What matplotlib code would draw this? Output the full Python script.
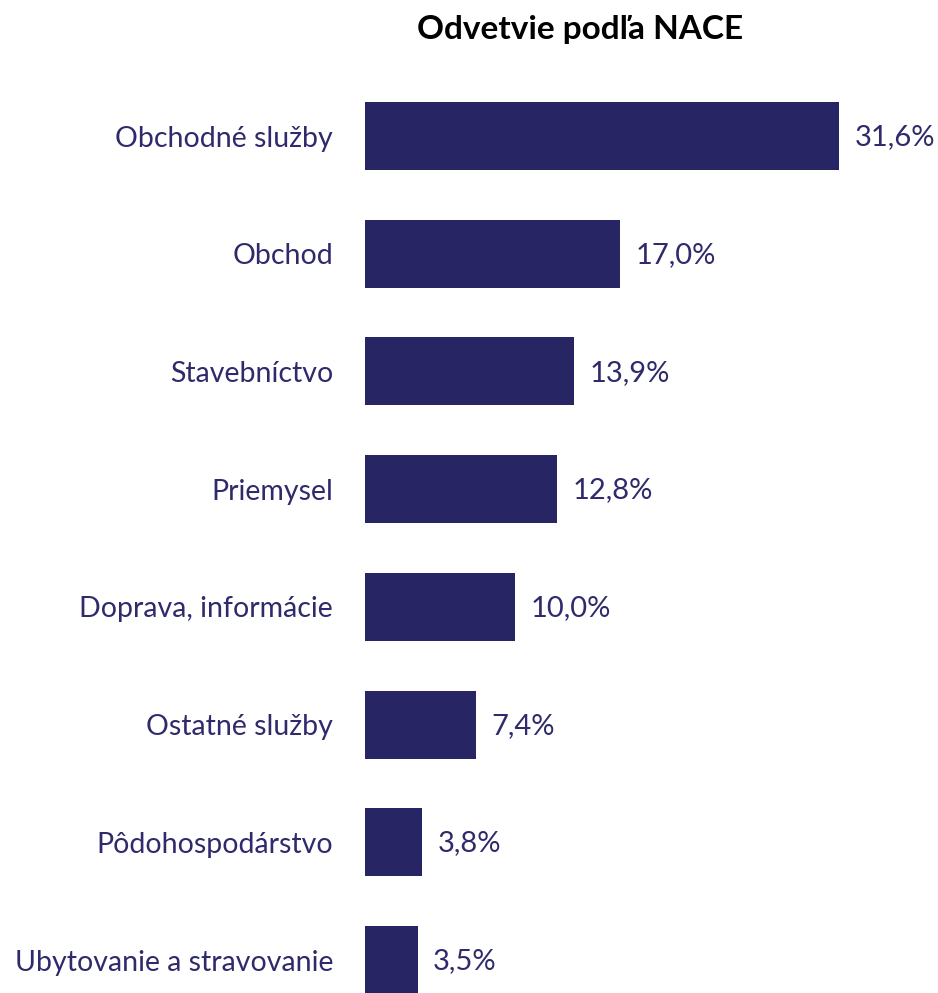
import matplotlib
matplotlib.use("Agg")
import matplotlib.pyplot as plt

categories = ["Obchodné služby", "Obchod", "Stavebníctvo", "Priemysel",
              "Doprava, informácie", "Ostatné služby", "Pôdohospodárstvo",
              "Ubytovanie a stravovanie"]
values = [31.6, 17.0, 13.9, 12.8, 10.0, 7.4, 3.8, 3.5]
value_labels = ["31,6%", "17,0%", "13,9%", "12,8%", "10,0%", "7,4%", "3,8%", "3,5%"]

bar_color = "#282564"
text_color = "#2E2A6B"

W, H = 938, 993
fig = plt.figure(figsize=(W / 100, H / 100), dpi=100)
ax = fig.add_axes([365 / W, 0, 1 - 365 / W, (993 - 60) / H])

ypos = list(range(len(categories)))
ax.barh(ypos, values, height=0.578, color=bar_color)
ax.set_xlim(0, 573 / 15.0)
ax.set_ylim(7.28, -0.646)

for y, v, lab in zip(ypos, values, value_labels):
    ax.text(v + 1.05, y + 0.01, lab, va="center", ha="left", fontsize=21,
            color=text_color, family="Lato")

ax.set_yticks(ypos)
ax.set_yticklabels(categories, fontsize=20.5, color=text_color, family="Lato")
ax.tick_params(axis="y", length=0, pad=23)
ax.set_xticks([])
for s in ax.spines.values():
    s.set_visible(False)

fig.text(580 / W, 1 - 30 / H, "Odvetvie podľa NACE", ha="center", va="center",
         fontsize=24, fontweight="bold", family="Lato", color="black")

fig.savefig("out.png", dpi=100)
